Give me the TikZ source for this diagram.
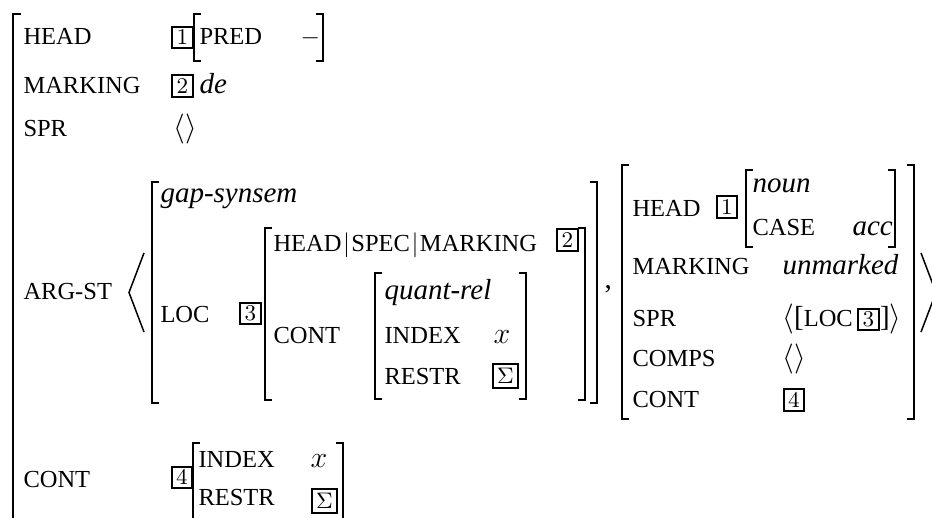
\documentclass[tikz,border=0pt]{standalone}
\usepackage{fontspec}
\setmainfont{Liberation Serif}
\usetikzlibrary{positioning}

% left and right brackets: x, top, bottom
\newcommand\lbr[3]{\draw[brak] (#1+7,#2) -- (#1,#2) -- (#1,#3) -- (#1+7,#3);}
\newcommand\rbr[3]{\draw[brak] (#1-7,#2) -- (#1,#2) -- (#1,#3) -- (#1-7,#3);}

\begin{document}
\begin{tikzpicture}[x=0.4pt,y=-0.4pt,
  attr/.style={anchor=base west,inner sep=0pt,font=\fontsize{9.8}{11}\selectfont},
  val/.style={anchor=base west,inner sep=0pt,font=\fontsize{11.6}{13}\selectfont\itshape},
  mval/.style={anchor=base west,inner sep=0pt,font=\fontsize{11.6}{13}\selectfont},
  tag/.style={draw,line width=0.8pt,inner sep=0pt,minimum width=8.2pt,minimum height=8.6pt,font=\fontsize{9.2}{10}\selectfont},
  sig/.style={tag,minimum width=9.8pt,minimum height=9.4pt},
  brak/.style={line width=0.6pt}]

\clip (0,0) rectangle (932,518);

% outer matrix
\draw[brak] (21,14) -- (13,14) -- (13,560);

\node[attr] (head) at (23,45) {HEAD};
\node[tag] (t1) at (182.5,37.5) {$1$};
\lbr{194}{14}{61}
\node[attr] (pred) at (199,45) {PRED};
\node[attr] (minus) at (300,45) {$-$};
\rbr{323}{14}{61}

\node[attr] (mark) at (23,94) {MARKING};
\node[tag] (t2) at (182.5,86) {$2$};
\node[val] (de) at (199,94) {de};

\node[attr] (spr) at (23,137) {SPR};
\node[mval] (sprv) at (173,137) {$\langle\rangle$};

% arg-st list
\node[attr] (argst) at (23,300) {ARG-ST};
\draw[brak] (144,253) -- (129,292.5) -- (144,332);

\lbr{152}{182}{403}
\node[val] (gap) at (160,203) {gap-synsem};
\node[attr] (loc) at (160,323) {LOC};
\node[tag] (t3) at (250.5,313.5) {$3$};
\lbr{265}{228}{400}
\node[attr] (hsm) at (273,252) {HEAD\kern.6pt$|$\kern.6pt SPEC\kern.6pt$|$\kern.6pt MARKING};
\node[tag] (t2b) at (567.5,240) {$2$};
\node[attr] (cont) at (273,344) {CONT};
\lbr{375}{273}{399}
\node[val] (qrel) at (384,300) {quant-rel};
\node[attr] (idx) at (384,344) {INDEX};
\node[mval] (x) at (493,344) {$x$};
\node[attr] (restr) at (384,385) {RESTR};
\node[sig] (s1) at (505.5,376) {$\Sigma$};
\rbr{526}{273}{399}
\rbr{585}{228}{400}
\rbr{597}{182}{403}
\node[mval] (comma) at (604,289) {,};

\lbr{622}{165}{419}
\node[attr] (head2) at (632,217) {HEAD};
\node[tag] (t1b) at (727,207) {$1$};
\lbr{746}{170}{247}
\node[val] (noun) at (752,193) {noun};
\node[attr] (case) at (752,236) {CASE};
\node[val] (acc) at (852,236) {acc};
\rbr{895}{170}{247}
\node[attr] (mark2) at (632,275) {MARKING};
\node[val] (unm) at (782,275) {unmarked};
\node[attr] (spr2) at (632,327) {SPR};
\node[mval] (spr2v) at (782,327) {$\langle$[{\fontsize{9.8}{11}\selectfont LOC}};
\node[tag,right=1.5pt of spr2v] (t3b) {$3$};
\node[mval,right=0pt of t3b] (spr2e) {]$\rangle$};
\node[attr] (comps) at (632,367) {COMPS};
\node[mval] (compsv) at (782,367) {$\langle\rangle$};
\node[attr] (cont2) at (632,408) {CONT};
\node[tag] (t4b) at (794,400) {$4$};
\rbr{914}{165}{419}
\draw[brak] (921,253) -- (936,292.5) -- (921,332);

% cont
\node[attr] (cont3) at (23,487) {CONT};
\node[tag] (t4) at (182,477.5) {$4$};
\lbr{193}{443}{540}
\node[attr] (idx2) at (198,467) {INDEX};
\node[mval] (x2) at (310,467) {$x$};
\node[attr] (restr2) at (198,505) {RESTR};
\node[sig] (s2) at (324.5,501) {$\Sigma$};
\rbr{343}{443}{540}

\end{tikzpicture}
\end{document}
